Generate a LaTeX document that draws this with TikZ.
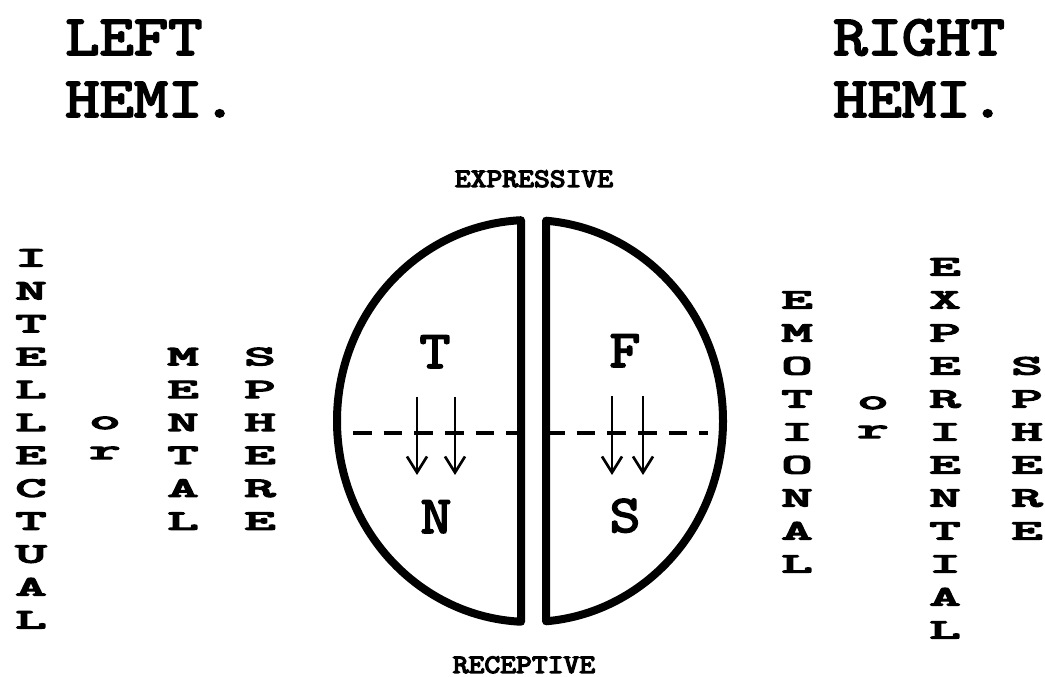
\documentclass[tikz,border=0pt]{standalone}
\usepackage{fontspec}
\newfontfamily\twf[FakeBold=4.5]{lmmono10-regular.otf}
\newfontfamily\twg[FakeBold=3]{lmmono10-regular.otf}
\usetikzlibrary{arrows.meta}
\newcommand\mywide[2]{\scalebox{#1}[1]{#2}}
\begin{document}
\begin{tikzpicture}[x=0.75pt,y=0.75pt,
  vl/.style={font=\twf\fontsize{21}{21}\selectfont, inner sep=0pt, anchor=base},
  titletext/.style={font=\twg\fontsize{43}{43}\selectfont, inner sep=0pt, anchor=base west},
  poletext/.style={font=\twf\fontsize{20}{20}\selectfont, inner sep=0pt, anchor=base},
  fnletter/.style={font=\twg\fontsize{40}{40}\selectfont, inner sep=0pt, anchor=base},
  halfshape/.style={line width=6pt, line join=round},
  divline/.style={line width=2.6pt, dash pattern=on 14pt off 9pt},
  arr/.style={line width=2pt, -{Straight Barb[length=12pt,width=15pt]}}
]
\useasboundingbox (0,0) rectangle (1045,677);

% titles
\node[titletext] (lefta) at (65,622) {\mywide{1.14}{LEFT}};
\node[titletext] (leftb) at (65,560) {\mywide{1.14}{HEMI.}};
\node[titletext] (righta) at (833,622) {\mywide{1.14}{RIGHT}};
\node[titletext] (rightb) at (833,560) {\mywide{1.14}{HEMI.}};

% poles
\node[poletext] (expr) at (534,490) {\mywide{1.13}{EXPRESSIVE}};
\node[poletext] (recp) at (524,4) {\mywide{1.13}{RECEPTIVE}};

% hemispheres
\draw[halfshape] (521,456.78) arc[start angle=92.67, end angle=267.33, x radius=193, y radius=201] -- cycle;
\draw[halfshape] (546.02,456.3) arc[start angle=85.24, end angle=-85.24, x radius=193, y radius=201] -- cycle;

% dashed dividers
\coordinate (dl1) at (353,244);
\coordinate (dl2) at (521,244);
\coordinate (dr1) at (546,244);
\coordinate (dr2) at (708,244);
\draw[divline] (dl1) -- (dl2);
\draw[divline] (dr1) -- (dr2);

% function letters
\node[fnletter] (T) at (435,309) {\mywide{1.1}{T}};
\node[fnletter] (N) at (436,144) {\mywide{1.1}{N}};
\node[fnletter] (F) at (625,310) {\mywide{1.1}{F}};
\node[fnletter] (S) at (625,145) {\mywide{1.1}{S}};

% arrows
\coordinate (a1s) at (417,280); \coordinate (a1e) at (417,202);
\coordinate (a2s) at (455,280); \coordinate (a2e) at (455,202);
\coordinate (a3s) at (612,281); \coordinate (a3e) at (612,202);
\coordinate (a4s) at (643,281); \coordinate (a4e) at (643,202);
\draw[arr] (a1s) -- (a1e);
\draw[arr] (a2s) -- (a2e);
\draw[arr] (a3s) -- (a3e);
\draw[arr] (a4s) -- (a4e);

% left vertical words
\foreach \l [count=\i from 0] in {I,N,T,E,L,L,E,C,T,U,A,L}
  \node[vl] (intel\i) at (31,{410.5-32.9*\i}) {\mywide{2.1}{\l}};
\node[vl] (lor1) at (105,248) {\mywide{2.1}{o}};
\node[vl] (lor2) at (105,218) {\mywide{2.1}{r}};
\foreach \l [count=\i from 3] in {M,E,N,T,A,L}
  \node[vl] (ment\i) at (183,{410.5-32.9*\i}) {\mywide{2.1}{\l}};
\foreach \l [count=\i from 3] in {S,P,H,E,R,E}
  \node[vl] (lsph\i) at (260,{410.5-32.9*\i}) {\mywide{2.1}{\l}};

% right vertical words
\foreach \l [count=\i from 1] in {E,M,O,T,I,O,N,A,L}
  \node[vl] (emot\i) at (797,{401.5-33*\i}) {\mywide{2.1}{\l}};
\node[vl] (ror1) at (873,268) {\mywide{2.1}{o}};
\node[vl] (ror2) at (873,239) {\mywide{2.1}{r}};
\foreach \l [count=\i from 0] in {E,X,P,E,R,I,E,N,T,I,A,L}
  \node[vl] (expe\i) at (945,{401.5-33*\i}) {\mywide{2.1}{\l}};
\foreach \l [count=\i from 3] in {S,P,H,E,R,E}
  \node[vl] (rsph\i) at (1027,{401.5-33*\i}) {\mywide{2.1}{\l}};
\end{tikzpicture}
\end{document}
